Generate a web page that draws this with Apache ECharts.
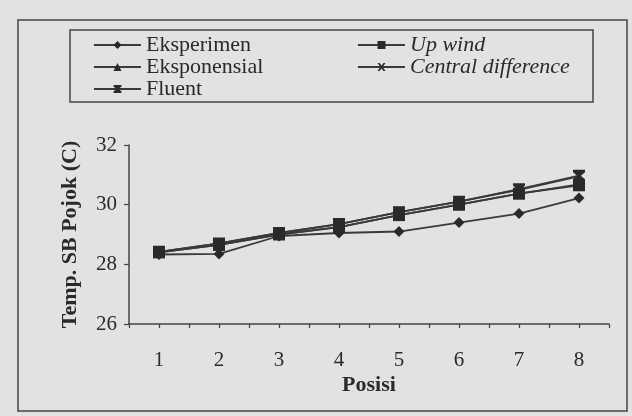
<!DOCTYPE html>
<html>
<head>
<meta charset="utf-8">
<script src="https://cdn.jsdelivr.net/npm/echarts@6/dist/echarts.min.js"></script>
<style>
html,body{margin:0;padding:0;background:#e2e2e0;}
#c{width:632px;height:416px;}
</style>
</head>
<body>
<div id="c"></div>
<script>
var positions = [1, 2, 3, 4, 5, 6, 7, 8];
var eksperimen = [28.33, 28.35, 28.95, 29.05, 29.1, 29.4, 29.7, 30.22];
var eksponensial = [28.4, 28.65, 29.0, 29.25, 29.65, 30.0, 30.37, 30.68];
var fluent = [28.42, 28.7, 29.05, 29.35, 29.75, 30.1, 30.52, 30.97];
var upWind = [28.4, 28.65, 29.0, 29.25, 29.65, 30.0, 30.37, 30.65];
var centralDiff = [28.42, 28.7, 29.05, 29.35, 29.75, 30.1, 30.5, 30.95];
var yTicks = [26, 28, 30, 32];

function pairs(vals){ return positions.map(function(p,i){ return [p, vals[i]]; }); }

var ink = '#2a2a2a';
var hourglass = 'path://M0,0 L10,0 L10,2 L6.5,5 L10,8 L10,10 L0,10 L0,8 L3.5,5 L0,2 Z';
var cross = 'path://M0,0 L2.5,0 L5,3 L7.5,0 L10,0 L6.4,5 L10,10 L7.5,10 L5,7 L2.5,10 L0,10 L3.6,5 Z';

function ser(name, vals, symbol, size){
  return {
    name: name, type: 'line', data: pairs(vals),
    symbol: symbol, symbolSize: size,
    lineStyle: {color: '#3a3a3a', width: 1.8},
    itemStyle: {color: ink},
    emphasis: {disabled: true},
    animation: false
  };
}

var chart = echarts.init(document.getElementById('c'));
chart.setOption({
  backgroundColor: '#e2e2e0',
  animation: false,
  textStyle: {fontFamily: 'Liberation Serif'},
  graphic: [
    {type: 'rect', shape: {x: 18, y: 20, width: 609, height: 391},
     style: {fill: 'none', stroke: '#444', lineWidth: 1.5}, silent: true, z: -1},
    {type: 'rect', shape: {x: 70, y: 30, width: 523, height: 72},
     style: {fill: 'none', stroke: '#444', lineWidth: 1.5}, silent: true, z: -1}
  ],
  legend: [
    {data: ['Eksperimen', 'Eksponensial', 'Fluent'], orient: 'vertical',
     left: 93, top: 34, padding: 0, itemGap: 0, itemWidth: 47, itemHeight: 10,
     textStyle: {fontFamily: 'Liberation Serif', fontSize: 22, color: ink, lineHeight: 21}},
    {data: ['Up wind', 'Central difference'], orient: 'vertical',
     left: 357, top: 34, padding: 0, itemGap: 0, itemWidth: 47, itemHeight: 10,
     textStyle: {fontFamily: 'Liberation Serif', fontSize: 22, color: ink, lineHeight: 21, fontStyle: 'italic'}}
  ],
  grid: {left: 129, right: 23, top: 145, bottom: 92},
  xAxis: {
    type: 'value', min: 0.5, max: 8.5, interval: 0.5,
    name: 'Posisi', nameLocation: 'middle', nameGap: 50,
    nameTextStyle: {fontFamily: 'Liberation Serif', fontSize: 22, fontWeight: 'bold', color: ink},
    axisLine: {lineStyle: {color: '#444', width: 1.5}},
    axisTick: {show: true, length: 4, lineStyle: {color: '#444', width: 1.2}},
    axisLabel: {margin: 26, fontFamily: 'Liberation Serif', fontSize: 21, color: ink,
      formatter: function(v){ return positions.indexOf(v) >= 0 ? String(v) : ''; }},
    splitLine: {show: false}
  },
  yAxis: {
    type: 'value', min: yTicks[0], max: yTicks[yTicks.length-1], interval: 2,
    name: 'Temp. SB Pojok (C)', nameLocation: 'middle', nameGap: 48, nameRotate: 90,
    nameTextStyle: {fontFamily: 'Liberation Serif', fontSize: 22, fontWeight: 'bold', color: ink},
    axisLine: {show: true, lineStyle: {color: '#444', width: 1.5}},
    axisTick: {show: true, length: 5, lineStyle: {color: '#444', width: 1.2}},
    axisLabel: {margin: 12, fontFamily: 'Liberation Serif', fontSize: 21, color: ink},
    splitLine: {show: false}
  },
  series: [
    ser('Eksperimen', eksperimen, 'diamond', 11),
    ser('Eksponensial', eksponensial, 'triangle', 11),
    ser('Fluent', fluent, hourglass, 12),
    ser('Up wind', upWind, 'rect', 12),
    ser('Central difference', centralDiff, cross, 11)
  ]
});
</script>
</body>
</html>
